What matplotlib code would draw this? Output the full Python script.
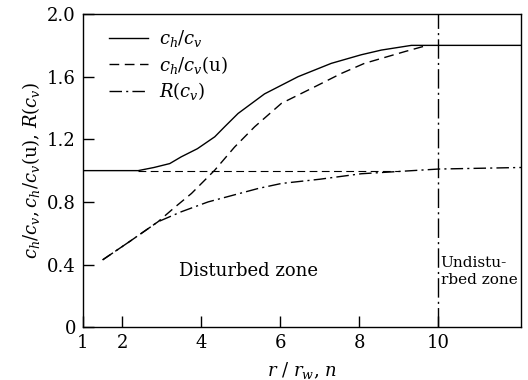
import matplotlib
matplotlib.use("Agg")
import matplotlib.pyplot as plt

plt.rcParams['font.family'] = ['DejaVu Serif']
plt.rcParams['mathtext.fontset'] = 'dejavuserif'

# ch/cv (solid)
x_solid = [1.0, 2.4, 2.8, 3.2, 3.49, 3.9, 4.34, 4.59, 4.93, 5.6, 6.45, 7.29, 8.05, 8.56, 9.32, 12.1]
y_solid = [1.00, 1.00, 1.02, 1.045, 1.088, 1.14, 1.216, 1.28, 1.365, 1.49, 1.60, 1.685, 1.74, 1.77, 1.80, 1.80]

# ch/cv(u) (dashed)
x_u = [1.5, 2.2, 2.9, 3.3, 3.75, 4.34, 4.84, 5.35, 6.03, 6.87, 7.54, 8.13, 9.15, 9.65]
y_u = [0.43, 0.55, 0.673, 0.76, 0.854, 1.003, 1.15, 1.28, 1.43, 1.535, 1.62, 1.685, 1.76, 1.795]

# R(cv) (dash-dot)
x_r = [1.5, 2.2, 2.9, 3.49, 4.17, 4.76, 5.44, 6.03, 7.0, 8.05, 8.7, 10.0, 12.1]
y_r = [0.43, 0.55, 0.673, 0.737, 0.80, 0.84, 0.886, 0.918, 0.945, 0.98, 0.99, 1.01, 1.02]

# reference line at 1.0
x_ref = [2.4, 9.0]
y_ref = [1.0, 1.0]

x_ticks = [1, 2, 4, 6, 8, 10]
y_ticks = [0, 0.4, 0.8, 1.2, 1.6, 2.0]
y_ticklabels = ['0', '0.4', '0.8', '1.2', '1.6', '2.0']
zone_boundary = 10

fig = plt.figure(figsize=(5.28, 3.80), dpi=100)
ax = fig.add_axes([0.157, 0.139, 0.830, 0.824])

lw = 1.0
ax.plot(x_solid, y_solid, color='black', lw=lw, ls='-', label=r'$c_h/c_v$')
ax.plot(x_u, y_u, color='black', lw=lw, ls=(0, (7, 4)), label=r'$c_h/c_v$(u)')
ax.plot(x_r, y_r, color='black', lw=lw, ls=(0, (9, 3, 1.5, 3)), label=r'$R(c_v)$')
ax.plot(x_ref, y_ref, color='black', lw=0.8, ls=(0, (7, 4)))
ax.axvline(zone_boundary, color='black', lw=1.0, ls=(0, (14, 3, 1.5, 3)))

ax.set_xlim(1, 12.1)
ax.set_ylim(0, 2.0)
ax.set_xticks(x_ticks)
ax.set_yticks(y_ticks)
ax.set_yticklabels(y_ticklabels)
ax.tick_params(direction='in', length=8, width=1, labelsize=13, pad=5)
for s in ax.spines.values():
    s.set_linewidth(1.0)

ax.set_xlabel(r'$r$ / $r_w$, $n$', fontsize=13, labelpad=6)
ax.set_ylabel(r'$c_h/c_v, c_h/c_v$(u), $R(c_v)$', fontsize=13, labelpad=4)

ax.text(5.19, 0.36, 'Disturbed zone', fontsize=13, ha='center', va='center')
ax.text(10.06, 0.355, 'Undistu-\nrbed zone', fontsize=11, ha='left', va='center', linespacing=1.3)

ax.legend(loc='upper left', bbox_to_anchor=(0.03, 0.995), frameon=False, fontsize=13,
          handlelength=2.2, labelspacing=0.25, handletextpad=0.6, borderpad=0.2)

fig.savefig('out.png', dpi=100)
